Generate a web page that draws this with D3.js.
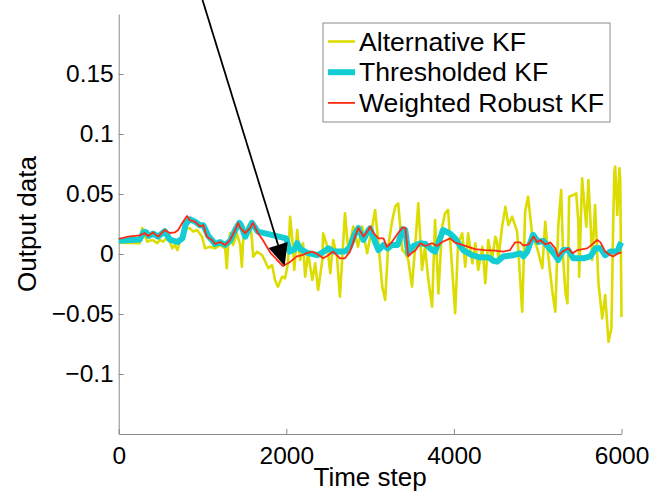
<!DOCTYPE html>
<html>
<head>
<meta charset="utf-8">
<script src="https://cdn.jsdelivr.net/npm/d3@7"></script>
<style>
  body { margin: 0; background: #fff; }
  svg text { font-family: "Liberation Sans", Arial, Helvetica, sans-serif; fill: #000; }
</style>
</head>
<body>
<div id="chart"></div>
<script>
// series names and tick values
const seriesNames = ["Alternative KF", "Thresholded KF", "Weighted Robust KF"];
const timeTicks = [0, 2000, 4000, 6000];
const outputTicks = [-0.1, -0.05, 0, 0.05, 0.1, 0.15];

// [time step, output]
const alternativeKF = [
  [0,0.0094],[250,0.009],[280,0.0217],[340,0.0103],[400,0.0117],[460,0.009],[490,0.0117],[530,0.0103],
  [590,0.0144],[640,0.0047],[670,0.0075],[700,0.0033],[730,0.0103],[790,0.0214],[850,0.0214],[890,0.0186],
  [935,0.02],[995,0.0144],[1030,0.0047],[1090,0.0061],[1150,0.0047],[1210,0.0075],[1270,0.0047],[1290,-0.0119],
  [1305,0.0061],[1330,0.0172],[1365,0.0075],[1410,0.0172],[1450,0.0075],[1470,-0.0106],[1485,0.0117],[1530,0.0214],
  [1570,0.0256],[1590,0.0117],[1605,-0.0022],[1650,0.0019],[1710,-0.0008],[1750,-0.0064],[1785,-0.0119],[1830,-0.0092],
  [1865,-0.0217],[1900,-0.0272],[1950,-0.0189],[1985,-0.0203],[2020,-0.0078],[2045,0.0311],[2080,0.0061],[2095,-0.0133],
  [2130,0.02],[2165,-0.005],[2200,0.0089],[2225,-0.0189],[2260,0.0006],[2310,-0.0217],[2345,-0.0078],[2380,-0.03],
  [2430,-0.005],[2440,0.0172],[2490,0.0061],[2525,-0.0161],[2560,0.0117],[2605,-0.0022],[2640,-0.0356],[2700,0.0339],
  [2740,0.0033],[2800,0.0228],[2855,0.0061],[2905,0.0228],[2965,0.0006],[3025,0.0228],[3060,0.0367],[3095,0.0117],
  [3145,-0.0272],[3180,-0.0383],[3215,0.0061],[3265,0.0283],[3300,0.0394],[3335,0.0422],[3385,0.0033],[3420,0.0006],
  [3455,-0.005],[3500,-0.0272],[3540,0.0089],[3575,0.0422],[3620,-0.0133],[3655,0.0061],[3695,-0.0217],[3740,-0.0439],
  [3775,0.0283],[3815,-0.0328],[3860,0.0228],[3895,0.0339],[3930,0.0367],[3980,-0.0133],[4015,-0.0494],[4050,0.0089],
  [4100,0.0172],[4135,-0.0106],[4170,0.0172],[4220,-0.0078],[4255,0.0089],[4290,-0.0133],[4340,0.0061],[4375,-0.0244],
  [4410,0.0117],[4455,-0.005],[4495,0.0144],[4515,0.0103],[4530,-0.005],[4575,0.0228],[4615,0.0394],[4650,0.0242],
  [4695,0.0311],[4755,0.0186],[4815,-0.0481],[4850,0.0353],[4885,0.0478],[4935,0.0158],[4995,0.0047],[5055,-0.0119],
  [5090,0.0269],[5125,-0.0008],[5175,-0.0314],[5210,-0.0481],[5245,0.0228],[5280,0.0533],[5305,-0.005],[5330,-0.0314],
  [5355,-0.0411],[5375,0.0478],[5425,0.0492],[5460,0.0506],[5485,0.0269],[5495,-0.0189],[5530,0.0631],[5580,0.0228],
  [5605,0.0617],[5630,0.0269],[5650,-0.005],[5685,0.0408],[5725,-0.0244],[5770,-0.0536],[5805,-0.0342],[5845,-0.0731],
  [5880,-0.0619],[5900,0.0228],[5915,0.0686],[5925,0.0728],[5950,0.0325],[5975,0.0714],[5985,0.062],[6000,-0.0525]
];

const thresholdedKF = [
  [0,0.011],[250,0.012],[300,0.0186],[330,0.018],[360,0.015],[410,0.017],[470,0.0145],[550,0.019],
  [610,0.012],[700,0.010],[760,0.013],[800,0.025],[850,0.029],[910,0.027],[970,0.024],[1010,0.024],
  [1070,0.015],[1120,0.011],[1150,0.0083],[1210,0.010],[1270,0.0075],[1330,0.011],[1390,0.02],[1440,0.026],
  [1460,0.024],[1510,0.0145],[1590,0.026],[1660,0.0186],[2000,0.013],[2040,0.002],[2100,0.004],[2130,0.009],
  [2170,0.004],[2250,0.001],[2370,-0.001],[2450,0.002],[2500,0.0047],[2560,0.002],[2700,0.002],[2760,0.006],
  [2820,0.017],[2860,0.0217],[2920,0.0117],[2980,0.02],[3000,0.0214],[3060,0.01],[3100,0.0033],[3160,0.0075],
  [3210,0.0047],[3260,0.0075],[3330,0.0075],[3385,0.0206],[3420,0.02],[3455,0.0006],[3515,0.0067],[3600,0.009],
  [3660,0.0083],[3740,0.0033],[3775,0.002],[3835,0.013],[3870,0.02],[3955,0.017],[4015,0.013],[4110,0.0033],
  [4215,-0.001],[4310,-0.0028],[4420,-0.003],[4470,-0.0056],[4515,-0.0064],[4590,-0.002],[4710,-0.001],[4790,0.0006],
  [4830,-0.002],[4875,0.002],[4945,0.016],[5005,0.010],[5065,0.011],[5125,0.006],[5210,-0.001],[5245,-0.005],
  [5305,0.0033],[5365,0.0033],[5425,-0.0036],[5545,-0.0036],[5630,-0.002],[5690,0.0047],[5750,0.0047],[5805,-0.001],
  [5865,0.002],[5950,0.002],[5985,0.008],[6000,0.0097]
];

const weightedRobustKF = [
  [0,0.0125],[110,0.0144],[250,0.0155],[310,0.0175],[350,0.015],[410,0.018],[470,0.0145],[550,0.02],
  [610,0.0175],[670,0.018],[710,0.02],[760,0.026],[815,0.0317],[850,0.028],[910,0.027],[970,0.023],
  [1010,0.024],[1050,0.0145],[1110,0.0117],[1150,0.0083],[1210,0.010],[1270,0.0075],[1330,0.0117],[1390,0.02],
  [1425,0.026],[1450,0.0217],[1510,0.0175],[1570,0.0217],[1600,0.026],[1660,0.0175],[1720,0.0117],[1810,0.001],
  [1890,-0.005],[1960,-0.01],[2050,-0.0064],[2125,-0.002],[2190,-0.001],[2250,0.001],[2310,0.002],[2370,0],
  [2440,-0.0036],[2500,-0.001],[2560,0.002],[2640,-0.0036],[2700,-0.0036],[2760,0.002],[2820,0.0145],[2860,0.0217],
  [2920,0.0145],[2980,0.02],[3000,0.023],[3040,0.0175],[3100,0.013],[3160,0.013],[3200,0.006],[3260,0.010],
  [3335,0.0175],[3385,0.022],[3420,0.022],[3455,-0.002],[3500,0.001],[3540,0.003],[3600,0.009],[3660,0.0067],
  [3740,0.009],[3800,0.0067],[3860,0.010],[3955,0.013],[4015,0.0094],[4135,0.0067],[4255,0.004],[4375,0.0033],
  [4495,0.0028],[4590,0.002],[4670,0.0033],[4730,0.0097],[4790,0.0097],[4830,0.007],[4890,0.008],[4950,0.0145],
  [4995,0.0097],[5030,0.0117],[5090,0.008],[5150,0.0097],[5210,0.0047],[5245,-0.002],[5295,0.002],[5330,0.0033],
  [5365,0.0047],[5415,0.0006],[5475,0.0033],[5590,0.0047],[5650,0.008],[5710,0.0117],[5750,0.0097],[5805,0.002],
  [5865,-0.001],[5900,-0.002],[5960,0.0006],[6000,0.0014]
];

// annotation arrow, in data units
const arrowFrom = [1000, 0.2117];
const arrowTo = [1980, -0.01];

const width = 655, height = 491;

const svg = d3.select("#chart")
    .append("svg")
    .attr("width", width)
    .attr("height", height);

const x = d3.scaleLinear().domain([0, 6000]).range([118.7, 621.5]);
const y = d3.scaleLinear().domain([-0.15, 0.2]).range([434, 14]);

const axisColor = "#8a8a8a";

// axes (MATLAB style, ticks pointing in, no box)
const yAxis = svg.append("g")
    .attr("transform", `translate(${x(0)},0)`)
    .call(d3.axisLeft(y)
        .tickValues(outputTicks)
        .tickSizeInner(-5)
        .tickSizeOuter(0)
        .tickPadding(5)
        .tickFormat(d => d === 0 ? "0" : String(d).replace("-", "\u2212")));

const xAxis = svg.append("g")
    .attr("transform", `translate(0,${y(-0.15)})`)
    .call(d3.axisBottom(x)
        .tickValues(timeTicks)
        .tickSizeInner(-5)
        .tickSizeOuter(0)
        .tickPadding(13)
        .tickFormat(d3.format("d")));

[yAxis, xAxis].forEach(g => {
    g.selectAll("path, line").attr("stroke", axisColor).attr("stroke-width", 1);
    g.selectAll("text").attr("font-size", 24.5).attr("fill", "#000")
        .style("font-family", '"Liberation Sans", Arial, sans-serif');
});

svg.append("text")
    .attr("x", (x(0) + x(6000)) / 2)
    .attr("y", 486)
    .attr("text-anchor", "middle")
    .attr("font-size", 26)
    .text("Time step");

svg.append("text")
    .attr("transform", `translate(36,${(y(-0.15) + y(0.2)) / 2}) rotate(-90)`)
    .attr("text-anchor", "middle")
    .attr("font-size", 26)
    .text("Output data");

// lines
const line = d3.line()
    .x(d => x(d[0]))
    .y(d => y(d[1]));

const series = [
    { name: seriesNames[0], data: alternativeKF, color: "#dcdc00", width: 2.6 },
    { name: seriesNames[1], data: thresholdedKF, color: "#12cdd4", width: 6 },
    { name: seriesNames[2], data: weightedRobustKF, color: "#ff2a12", width: 1.8 }
];

svg.selectAll("path.series")
    .data(series)
    .enter()
    .append("path")
    .classed("series", true)
    .attr("fill", "none")
    .attr("stroke", d => d.color)
    .attr("stroke-width", d => d.width)
    .attr("stroke-linejoin", "round")
    .attr("d", d => line(d.data));

// arrow annotation
const x0 = x(arrowFrom[0]), y0 = y(arrowFrom[1]);
const x1 = x(arrowTo[0]), y1 = y(arrowTo[1]);
const len = Math.hypot(x1 - x0, y1 - y0);
const ux = (x1 - x0) / len, uy = (y1 - y0) / len;
const headLen = 22, headHalf = 10;
const bx = x1 - ux * headLen, by = y1 - uy * headLen;

svg.append("line")
    .attr("x1", x0).attr("y1", y0)
    .attr("x2", bx).attr("y2", by)
    .attr("stroke", "#000")
    .attr("stroke-width", 1.8);

svg.append("polygon")
    .attr("points", [
        [x1, y1],
        [bx - uy * headHalf, by + ux * headHalf],
        [bx + uy * headHalf, by - ux * headHalf]
    ].map(p => p.join(",")).join(" "))
    .attr("fill", "#000");

// legend
const legend = svg.append("g");
legend.append("rect")
    .attr("x", 323).attr("y", 23)
    .attr("width", 287).attr("height", 99)
    .attr("fill", "#fff")
    .attr("stroke", axisColor);

const items = legend.selectAll("g.item")
    .data(series)
    .enter()
    .append("g")
    .classed("item", true)
    .attr("transform", (d, i) => `translate(328,${50.5 + i * 30.7})`);

items.append("line")
    .attr("x1", 0).attr("x2", 27)
    .attr("y1", -9).attr("y2", -9)
    .attr("stroke", d => d.color)
    .attr("stroke-width", d => d.width);

items.append("text")
    .attr("x", 31)
    .attr("font-size", 26.6)
    .text(d => d.name);
</script>
</body>
</html>
